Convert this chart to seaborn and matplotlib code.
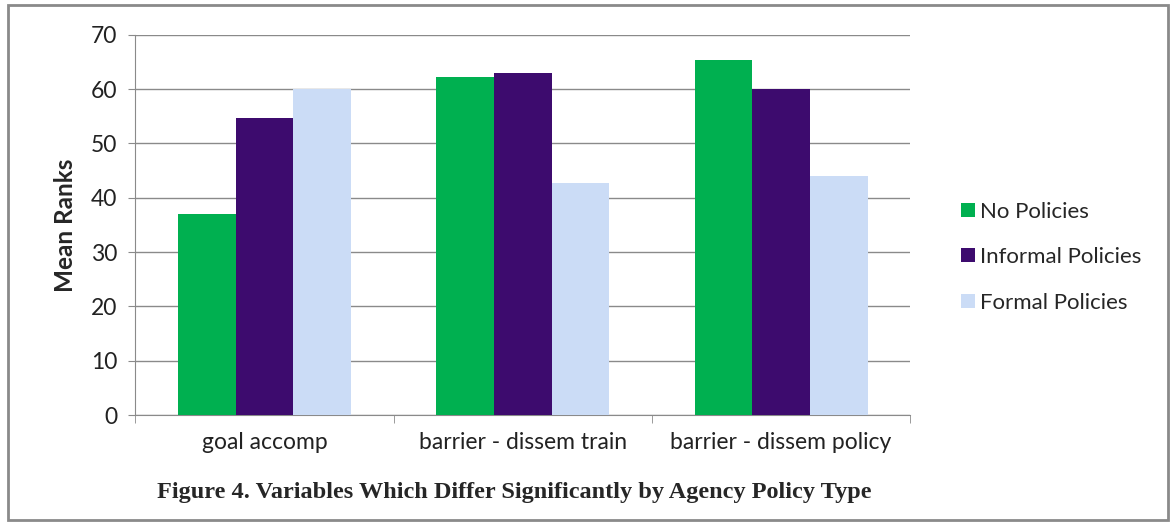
import numpy as np
import pandas as pd
import matplotlib
matplotlib.use("Agg")
import matplotlib.pyplot as plt
import seaborn as sns
from matplotlib.patches import Rectangle

categories = ["goal accomp", "barrier - dissem train", "barrier - dissem policy"]
groups = ["No Policies", "Informal Policies", "Formal Policies"]
no_policies = [37.0, 62.2, 65.4]
informal_policies = [54.7, 63.0, 60.0]
formal_policies = [60.0, 42.7, 44.0]
colors = ["#00b050", "#3d0b6e", "#cbdcf6"]

df = pd.DataFrame({
    "variable": categories * 3,
    "group": [g for g in groups for _ in categories],
    "rank": no_policies + informal_policies + formal_policies,
})

sns.set_style("white")
plt.rcParams["font.family"] = ["Lato", "DejaVu Sans"]

fig = plt.figure(figsize=(11.76, 5.28), dpi=100)
ax = fig.add_axes([0.115, 0.214, 0.659, 0.72])

sns.barplot(df, x="variable", y="rank", hue="group", palette=colors,
            width=0.67, gap=0, saturation=1, linewidth=0, ax=ax, zorder=3)

ax.set_ylim(0, 70)
ax.set_xlim(-0.5, 2.5)
ax.set_yticks(range(0, 71, 10))
ax.yaxis.grid(True, color="#8a8a8a", linewidth=1, zorder=0)
ax.set_axisbelow(True)
ax.tick_params(axis="y", labelsize=16.5, length=5, color="#8a8a8a", left=True, pad=8,
               labelcolor="#222222")
ax.tick_params(axis="x", labelsize=16.5, length=0, pad=12, labelcolor="#222222")
ax.set_xticks([-0.5, 0.5, 1.5, 2.5], minor=True)
ax.tick_params(axis="x", which="minor", length=6, color="#8a8a8a", bottom=True)
for s in ["top", "right"]:
    ax.spines[s].set_visible(False)
for s in ["left", "bottom"]:
    ax.spines[s].set_color("#8a8a8a")
ax.set_xlabel("")
ax.set_ylabel("Mean Ranks", fontsize=17.5, fontweight="bold", labelpad=10)

ax.legend(loc="center left", bbox_to_anchor=(1.04, 0.415), frameon=False,
          fontsize=16, handlelength=0.6, handleheight=0.6, handletextpad=0.25,
          labelspacing=1.15)

fig.text(0.437, 0.068, "Figure 4. Variables Which Differ Significantly by Agency Policy Type",
         ha="center", va="center", fontsize=17.5, fontweight="bold",
         family=["Liberation Serif", "DejaVu Serif"])

fig.patches.append(Rectangle((0.007, 0.015), 0.986, 0.975, transform=fig.transFigure,
                             fill=False, edgecolor="#8a8a8a", linewidth=2))

fig.savefig("out.png", dpi=100)
